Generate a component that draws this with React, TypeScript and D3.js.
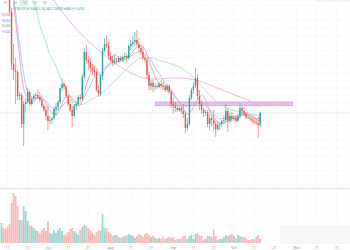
import React from "react";
import * as d3 from "d3";

const W = 350;
const H = 250;

const startDay = "2022-06-08";

const openP = [24920,25080,25000,24280,23720,22840,20760,20520,20440,19480,
19520,18360,19160,19240,19640,19160,19360,19480,19520,19440,
19320,19080,18920,18680,18480,18520,18600,18960,19040,19240,
19800,19960,19840,19480,19160,18920,18680,19080,19160,19440,
19360,20240,21240,20920,20840,20600,20520,20440,19720,19560,
20280,21320,21560,21480,21080,20920,20800,20880,20840,21000,
20920,21040,21080,21000,21480,21560,21640,21720,21560,21400,
21240,21000,20920,20320,19880,20000,19840,19880,19840,19960,
19880,19840,19720,19880,19640,19160,19080,19000,18920,19000,
18880,18760,18200,18360,19400,19720,19880,20200,19480,19160,
18920,18800,18840,18360,18600,18520,18360,18160,18320,18360,
18480,18520,18880,18480,18680,18560,18600,18480,18680,19000,
18880,18760,18640,18600,18560,18480,18440,18400,18320];

const highP = [25240,25240,25080,24440,23880,23000,21560,21000,20520,19640,
19600,19280,19400,19800,19720,19440,19560,19600,19720,19640,
19520,19160,19080,19080,18680,18640,19080,19200,19320,19800,
20200,20040,19920,19560,19240,19080,19160,19240,19520,19560,
20360,21400,21520,21080,21000,20760,20680,20520,19920,20360,
21400,21800,21920,21640,21240,21080,21120,21000,21080,21080,
21120,21240,21160,21560,21720,21880,22040,22120,21800,21520,
21440,21120,21000,20440,20120,20120,20000,19960,20040,20120,
20040,19920,19960,19960,19720,19400,19240,19120,19080,19080,
19160,18880,18600,19520,19800,20040,20600,20360,19720,19320,
19000,18920,18920,18760,18720,18920,18480,18440,18440,18520,
18720,19160,19000,18800,18840,18680,18680,18720,19200,19080,
19040,18840,18720,18680,18640,18600,18560,18640,18840];

const lowP = [24680,24840,24120,23640,22760,20520,20120,19160,19320,19320,
18200,17480,18840,19160,19080,19080,19280,19360,19360,19240,
19000,18840,18520,18120,18360,18360,18520,18680,18920,19160,
19640,19720,19400,19080,18840,18240,18600,18920,19080,19280,
19320,20120,20760,20520,20440,20320,20280,19640,19440,19480,
20120,21240,21400,20920,20840,20680,20720,20760,20800,20840,
20840,20920,20880,20920,21320,21440,21480,21480,21240,21120,
20920,20840,20200,19720,19720,19640,19720,19760,19800,19800,
19720,19640,19640,19560,19000,18800,18840,18840,18840,18760,
18600,18000,18080,18280,19320,19560,19800,19320,18920,18760,
18640,18680,18240,18120,18280,18120,17840,18080,18120,18240,
18360,18440,18040,18400,18440,18480,18400,18440,18600,18720,
18680,18560,18560,18480,18400,18360,18320,17800,18240];

const closeP = [25080,25000,24280,23720,22840,20760,20520,20440,19480,19520,
18360,19160,19240,19640,19160,19360,19480,19520,19440,19320,
19080,18920,18680,18480,18520,18600,18960,19040,19240,19800,
19960,19840,19480,19160,18920,18680,19080,19160,19440,19360,
20240,21240,20920,20840,20600,20520,20440,19720,19560,20280,
21320,21560,21480,21080,20920,20800,20880,20840,21000,20920,
21040,21080,21000,21480,21560,21640,21720,21560,21400,21240,
21000,20920,20320,19880,20000,19840,19880,19840,19960,19880,
19840,19720,19880,19640,19160,19080,19000,18920,19000,18880,
18760,18200,18360,19400,19720,19880,20200,19480,19160,18920,
18800,18840,18360,18600,18520,18360,18160,18320,18360,18480,
18520,18880,18480,18680,18560,18600,18480,18680,19000,18880,
18760,18640,18600,18560,18480,18440,18400,18320,18800];

// volume in thousands
const volumeK = [20,15,14,16,19,40,50,47,37,23,
23,37,32,22,17,17,15,13,12,10,
13,15,12,21,10,9,13,10,13,15,
12,8,9,11,14,15,12,10,8,13,
16,18,17,15,13,10,8,11,13,12,
29,15,15,11,9,7,8,8,6,5,
6,7,8,9,8,7,5,7,9,8,
6,9,10,8,6,7,5,4,5,4,
6,4,5,6,5,6,3,4,4,5,
7,7,4,7,8,4,9,10,8,7,
3,4,7,7,6,13,7,3,4,4,
6,8,7,8,9,7,5,8,7,6,
6,5,3,3,4,4,6,8,4];

const maBlue: [string, number][] = [
["2022-06-13",24120],["2022-06-15",22800],["2022-06-18",20920],["2022-06-20",19920],["2022-06-22",19520],
["2022-06-25",19400],["2022-06-27",19400],["2022-06-30",19280],["2022-07-02",19080],["2022-07-05",18920],
["2022-07-07",19000],["2022-07-10",19240],["2022-07-12",19320],["2022-07-14",19240],["2022-07-17",19200],
["2022-07-19",19440],["2022-07-22",19920],["2022-07-24",20240],["2022-07-27",20400],["2022-07-29",20600],
["2022-08-01",20760],["2022-08-03",20920],["2022-08-06",21000],["2022-08-08",21040],["2022-08-11",21080],
["2022-08-13",21200],["2022-08-16",21240],["2022-08-18",21160],["2022-08-21",20920],["2022-08-23",20600],
["2022-08-26",20280],["2022-08-28",19960],["2022-08-31",19640],["2022-09-02",19400],["2022-09-05",19200],
["2022-09-07",19080],["2022-09-09",19080],["2022-09-12",19160],["2022-09-14",19200],["2022-09-17",19120],
["2022-09-19",18920],["2022-09-22",18680],["2022-09-24",18560],["2022-09-27",18600],["2022-09-29",18640],
["2022-10-02",18680],["2022-10-04",18760],["2022-10-07",18760],["2022-10-09",18680],["2022-10-12",18600],
["2022-10-14",18560]];

const maGreen: [string, number][] = [
["2022-06-22",23640],["2022-06-25",23000],["2022-06-27",22320],["2022-06-30",21640],["2022-07-02",21120],
["2022-07-05",20680],["2022-07-07",20240],["2022-07-10",19800],["2022-07-12",19440],["2022-07-14",19120],
["2022-07-17",19120],["2022-07-22",19320],["2022-07-27",19560],["2022-08-01",19920],["2022-08-06",20320],
["2022-08-11",20720],["2022-08-16",21000],["2022-08-21",21000],["2022-08-26",20880],["2022-08-31",20760],
["2022-09-05",20600],["2022-09-09",20360],["2022-09-14",19960],["2022-09-19",19520],["2022-09-24",19160],
["2022-09-29",18960],["2022-10-07",18800],["2022-10-14",18680]];

const maPurple: [string, number][] = [
["2022-07-02",23520],["2022-07-07",22960],["2022-07-12",22440],["2022-07-17",22000],["2022-07-22",21600],
["2022-07-27",21240],["2022-08-01",20920],["2022-08-06",20640],["2022-08-11",20400],["2022-08-16",20240],
["2022-08-21",20160],["2022-08-26",20160],["2022-08-31",20200],["2022-09-05",20200],["2022-09-09",20160],
["2022-09-14",20080],["2022-09-19",19920],["2022-09-24",19760],["2022-09-29",19600],["2022-10-04",19440],
["2022-10-09",19280],["2022-10-14",19040]];

const zoneFrom = "2022-08-23";
const zoneTo = "2022-10-30";
const zoneTop = 19240;
const zoneBottom = 19100;

const xTickDates = ["2022-06-11","2022-06-21","2022-07-01","2022-07-11","2022-07-21","2022-08-01",
"2022-08-11","2022-08-21","2022-09-01","2022-09-11","2022-09-21","2022-10-01","2022-10-11",
"2022-10-21","2022-11-01","2022-11-11","2022-11-21"];
const xTickLabels = ["11","21","Jul","11","21","Aug","11","21","Sep","11","21","Oct","11","21","Nov","11","21"];

const tabLabels = ["1H","4H","1D","1W","1M"];
const legendOHLC = "O18,320 H18,840 L18,240 C18,800 +480 (+2.62%)";
const maLabels = ["18,594", "18,560", "18,680", "19,040"];

const UP = "#26a69a";
const DOWN = "#ef5350";
const C_MA7 = "#f48fb1";
const C_BLUE = "#90bff9";
const C_GREEN = "#a5deb2";
const C_PURPLE = "#e3a6dc";
const FONT = "Roboto, 'Noto Sans', sans-serif";

const parse = d3.timeParse("%Y-%m-%d");

export default function App() {
  const t0 = parse(startDay) as Date;
  const dates = closeP.map((_, i) => d3.timeDay.offset(t0, i));
  const x = d3.scaleTime()
    .domain([parse("2022-06-11") as Date, parse("2022-11-21") as Date])
    .range([7.5, 337]);
  const y = d3.scaleLinear().domain([23320, 15800]).range([0, 188]);
  const yv = d3.scaleLinear().domain([0, 52]).range([243, 191]);

  const ma7 = closeP.map((_, i) => (i < 6 ? null : d3.mean(closeP.slice(i - 6, i + 1)) as number));
  const lineIdx = d3.line<number | null>()
    .defined((d) => d != null)
    .x((_, i) => x(dates[i]))
    .y((d) => y(d as number));
  const linePairs = d3.line<[string, number]>()
    .x((d) => x(parse(d[0]) as Date))
    .y((d) => y(d[1]))
    .curve(d3.curveMonotoneX);

  const priceGrid = d3.range(15900, 23400, 300);
  const volGrid = d3.range(6, 52, 8);
  const lastClose = closeP[closeP.length - 1];
  const bw = 1.4;

  return (
    <svg width={W} height={H} style={{ position: "absolute", left: 0, top: 0, background: "#fff" }}
      fontFamily={FONT}>
      <defs>
        <clipPath id="pricePane"><rect x={0} y={0} width={W} height={188} /></clipPath>
      </defs>
      <rect x={0} y={0} width={W} height={H} fill="#fff" />
      {/* grid */}
      <g stroke="#e9ebf0" strokeWidth={0.6} strokeDasharray="1 1.3">
        {xTickDates.map((d, i) => (
          <line key={"vg" + i} x1={x(parse(d) as Date)} x2={x(parse(d) as Date)} y1={8} y2={243} />
        ))}
        {priceGrid.map((p, i) => (
          <line key={"hg" + i} x1={0} x2={W} y1={y(p)} y2={y(p)} />
        ))}
        {volGrid.map((v, i) => (
          <line key={"vgh" + i} x1={0} x2={W} y1={yv(v)} y2={yv(v)} />
        ))}
      </g>
      {/* pane separator */}
      <line x1={0} x2={W} y1={188.5} y2={188.5} stroke="#e0e3eb" strokeWidth={1.4} />
      {/* bottom-right box */}
      <rect x={280} y={225} width={70} height={19} rx={2} fill="#f6f7f9" />
      <rect x={315} y={0} width={35} height={1.5} fill="#eceef2" />

      <g clipPath="url(#pricePane)">
        {/* zone */}
        <rect x={x(parse(zoneFrom) as Date)} y={y(zoneTop)}
          width={x(parse(zoneTo) as Date) - x(parse(zoneFrom) as Date)}
          height={y(zoneBottom) - y(zoneTop)}
          fill="rgba(206,147,216,0.55)" stroke="#c98bd6" strokeWidth={0.6} />
        {/* last price line */}
        <line x1={0} x2={W} y1={y(lastClose)} y2={y(lastClose)} stroke="rgba(38,166,154,0.22)" strokeWidth={0.8} />
        {/* MAs */}
        <path d={linePairs(maPurple) || ""} fill="none" stroke={C_PURPLE} strokeWidth={0.8} />
        <path d={linePairs(maGreen) || ""} fill="none" stroke={C_GREEN} strokeWidth={0.8} />
        <path d={linePairs(maBlue) || ""} fill="none" stroke={C_BLUE} strokeWidth={0.8} />
        <path d={lineIdx(ma7) || ""} fill="none" stroke={C_MA7} strokeWidth={0.8} />
        {/* candles */}
        {closeP.map((c, i) => {
          const o = openP[i];
          const col = c >= o ? UP : DOWN;
          const cx = x(dates[i]);
          const top = y(Math.max(o, c));
          const h = Math.max(0.6, Math.abs(y(o) - y(c)));
          return (
            <g key={"c" + i}>
              <line x1={cx} x2={cx} y1={y(highP[i])} y2={y(lowP[i])} stroke={col} strokeWidth={0.6} />
              <rect x={cx - bw / 2} y={top} width={bw} height={h} fill={col} />
            </g>
          );
        })}
      </g>
      {/* volume */}
      {volumeK.map((v, i) => {
        const col = closeP[i] >= openP[i] ? "rgba(38,166,154,0.45)" : "rgba(239,83,80,0.4)";
        const cx = x(dates[i]);
        return <rect key={"v" + i} x={cx - 0.9} y={yv(v)} width={1.8} height={yv(0) - yv(v)} fill={col} />;
      })}
      {/* x labels */}
      {xTickDates.map((d, i) => (
        <text key={"xl" + i} x={x(parse(d) as Date)} y={248.5} fontSize={3.6} fill="#8c8f98" textAnchor="middle">
          {xTickLabels[i]}
        </text>
      ))}
      {/* top tabs */}
      <rect x={20.5} y={0.3} width={8} height={5.4} rx={0.8} fill="#e6f4ec" stroke="#cbe7d7" strokeWidth={0.4} />
      {tabLabels.map((t, i) => (
        <text key={"tab" + i} x={5 + i * 9.8} y={4.2} fontSize={3.2} fill={i === 2 ? "#3d9a72" : "#a0a3ab"} textAnchor="middle">
          {t}
        </text>
      ))}
      <rect x={51} y={0.5} width={5} height={5} rx={0.8} fill="none" stroke="#d6d8de" strokeWidth={0.4} />
      {/* OHLC legend row */}
      <circle cx={11} cy={9} r={1.4} fill="none" stroke="#9ccbb8" strokeWidth={0.5} />
      <text x={14} y={10.2} fontSize={3.2} fill={UP}>{legendOHLC}</text>
      {/* MA legend */}
      {[C_MA7, C_BLUE, C_GREEN, C_PURPLE].map((c, i) => (
        <text key={"ml" + i} x={1} y={16 + i * 5.6} fontSize={3.2} fill={c === C_MA7 ? "#f06292" : c === C_BLUE ? "#5b9cf6" : c === C_GREEN ? "#66bb6a" : "#d36fd0"}>
          {maLabels[i]}
        </text>
      ))}
    </svg>
  );
}
